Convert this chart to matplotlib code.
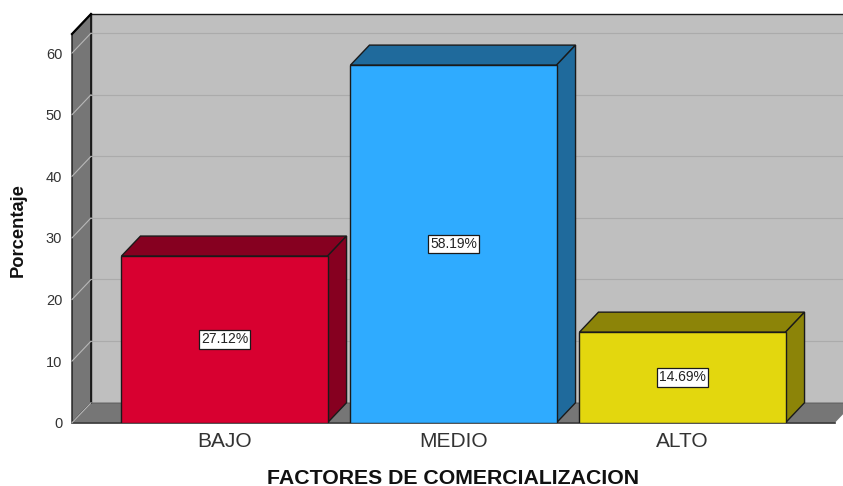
import matplotlib
matplotlib.use("Agg")
import matplotlib.pyplot as plt
from matplotlib.patches import Polygon

plt.rcParams['font.family'] = ['Liberation Sans', 'DejaVu Sans']

categorias = ['BAJO', 'MEDIO', 'ALTO']
alturas = [27.05, 58.05, 14.7]
etiquetas = ['27.12%', '58.19%', '14.69%']
ticks_y = [0, 10, 20, 30, 40, 50, 60]

colores = ['#D80030', '#2FABFF', '#E3D70E']
oscuros = ['#860020', '#1F6A9C', '#8C8408']

W, H = 843, 486
x0_px, x1_px = 72, 835
y0_px, y1_px = 422.7, 34
fig = plt.figure(figsize=(W / 100, H / 100), dpi=100)
ax = fig.add_axes([x0_px / W, (H - y0_px) / H, (x1_px - x0_px) / W, (y0_px - y1_px) / H])

xmin, xmax = -0.666, 2.666
ymax = 63.1
ax.set_xlim(xmin, xmax)
ax.set_ylim(0, ymax)
dx = 19 / 229
dy = 20 / 6.16
ancho = 0.9


def poly(puntos, color, z, ec='#1a1a1a', lw=1.0):
    ax.add_patch(Polygon(puntos, closed=True, facecolor=color, edgecolor=ec,
                         linewidth=lw, zorder=z, clip_on=False))


# paredes del fondo
poly([(xmin + dx, dy), (xmax + dx, dy), (xmax + dx, ymax + dy), (xmin + dx, ymax + dy)], '#BFBFBF', 1)
poly([(xmin, 0), (xmin + dx, dy), (xmin + dx, ymax + dy), (xmin, ymax)], '#767676', 1)
poly([(xmin, 0), (xmax, 0), (xmax + dx, dy), (xmin + dx, dy)], '#767676', 1.5, ec='none')
ax.plot([xmin, xmax], [0, 0], color='#333333', lw=1.2, zorder=1.6, clip_on=False)
ax.plot([xmin + dx, xmax + dx], [dy, dy], color='#666666', lw=0.6, zorder=1.6, clip_on=False)
ax.plot([xmin + dx, xmin + dx], [dy, ymax + dy], color='#1a1a1a', lw=1.1, zorder=1.6, clip_on=False)
ax.plot([xmin, xmin + dx], [ymax, ymax + dy], color='#000000', lw=1.6, zorder=1.8, clip_on=False)

# rejilla
for t in ticks_y:
    ax.plot([xmin, xmin + dx], [t, t + dy], color='#B8B8B8', lw=0.8, zorder=1.7, clip_on=False)
    if t > 0:
        ax.plot([xmin + dx, xmax + dx], [t + dy, t + dy], color='#ABABAB', lw=0.8, zorder=1.7, clip_on=False)

# barras
x_pos = list(range(len(categorias)))
barras = ax.bar(x_pos, alturas, width=ancho, color=colores, edgecolor='#1a1a1a', linewidth=1.0, zorder=3)
for i, b in enumerate(barras):
    l, r, h = b.get_x(), b.get_x() + b.get_width(), b.get_height()
    poly([(l, h), (r, h), (r + dx, h + dy), (l + dx, h + dy)], oscuros[i], 2.8)
    poly([(r, 0), (r + dx, dy), (r + dx, h + dy), (r, h)], oscuros[i], 2.8)
    ax.text(x_pos[i], h / 2, etiquetas[i], ha='center', va='center', fontsize=10, color='#222222', zorder=5,
            bbox=dict(boxstyle='square,pad=0.16', facecolor='white', edgecolor='#1a1a1a', linewidth=0.9))

for s in ax.spines.values():
    s.set_visible(False)
ax.patch.set_visible(False)

ax.set_yticks(ticks_y)
ax.set_xticks(x_pos)
ax.set_xticklabels(categorias, fontsize=15, color='#333333')
ax.tick_params(axis='x', length=0, pad=7)
ax.tick_params(axis='y', length=0, pad=7, labelsize=10.5, labelcolor='#333333')

fig.text(18 / W, 1 - 230 / H, 'Porcentaje', rotation=90, ha='center', va='center', fontsize=13.2, fontweight='bold', color='#111111')
fig.text(453 / W, 1 - 478 / H, 'FACTORES DE COMERCIALIZACION', ha='center', va='center', fontsize=15.3, fontweight='bold', color='#111111')

fig.savefig('out.png', dpi=100)
